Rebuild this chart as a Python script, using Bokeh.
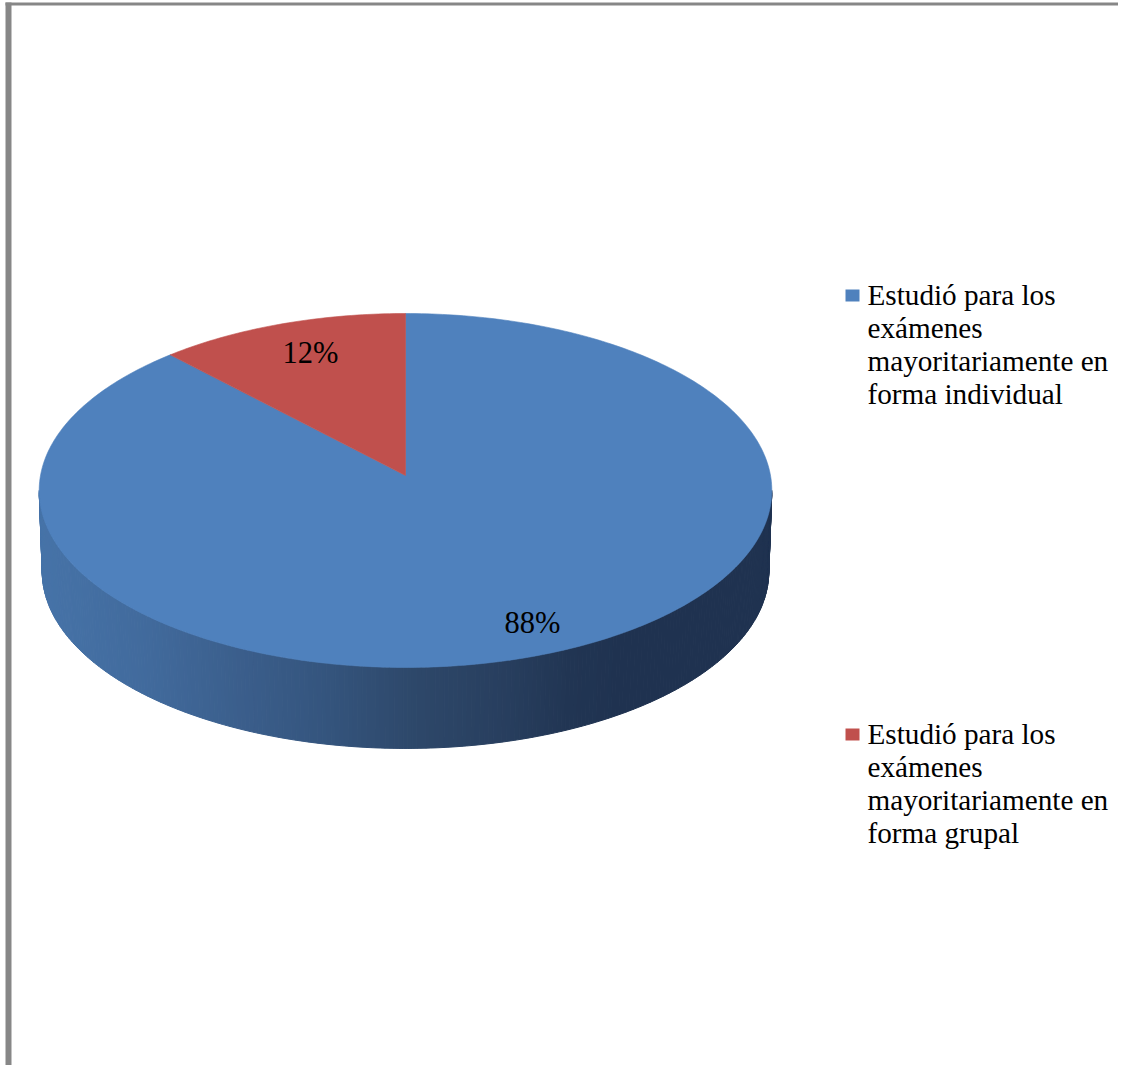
import textwrap
import numpy as np
from bokeh.plotting import figure
from bokeh.models import Range1d
from bokeh.core.properties import value
from bokeh.embed import file_html
from bokeh.resources import INLINE

# ---- data ----
categories = [
    "Estudió para los exámenes mayoritariamente en forma individual",
    "Estudió para los exámenes mayoritariamente en forma grupal",
]
values = [88, 12]
colors = ["#4F81BD", "#C0504D"]

# ---- geometry / style (reference pixel space) ----
W, H = 1118, 1065
CX, CY = 405.0, 475.0      # projected centre of the top disc
A, B, K = 365.0, 175.7, 0.0847  # half-width, half-depth, perspective factor
DEPTH, A_BOT = 81.0, 362.0
FONT = "Liberation Serif"
TEXT_DY = -10  # compensation for svg baseline placement

p = figure(width=W, height=H, output_backend="svg", toolbar_location=None,
           x_range=Range1d(0, W), y_range=Range1d(H, 0),
           min_border=0, outline_line_color=None, background_fill_color="white")
p.axis.visible = False
p.grid.visible = False


def proj(theta, r=1.0, dy=0.0, a=A):
    X = r * np.cos(theta)
    Y = r * np.sin(theta)
    den = 1 + K * Y
    return CX + a * X / den, CY + dy - B * Y / den


# chart frame (gray border at left and top)
p.quad(left=[5], right=[11], top=[2], bottom=[H], fill_color="#878787", line_color=None)
p.quad(left=[5], right=[W], top=[2], bottom=[5], fill_color="#878787", line_color=None)

# ---- side wall with horizontal shading ----
grad_x = [40, 150, 250, 330, 420, 500, 570, 620, 790]
grad_rgb = np.array([
    (70, 115, 168), (65, 106, 156), (58, 93, 138), (52, 84, 125), (45, 71, 105),
    (40, 63, 95), (33, 53, 83), (31, 50, 80), (31, 50, 80)], dtype=float)

delta = np.arcsin(K)
th = np.linspace(np.pi + delta, 2 * np.pi - delta, 260)
tx, ty = proj(th)
bx, by = proj(th, dy=DEPTH, a=A_BOT)
xs, ys, cols = [], [], []
for i in range(len(th) - 1):
    xs.append([tx[i], tx[i + 1], bx[i + 1], bx[i]])
    ys.append([ty[i], ty[i + 1], by[i + 1], by[i]])
    mx = 0.25 * (tx[i] + tx[i + 1] + bx[i] + bx[i + 1])
    rgb = [np.interp(mx, grad_x, grad_rgb[:, c]) for c in range(3)]
    cols.append("#%02x%02x%02x" % tuple(int(round(v)) for v in rgb))
p.patches(xs=xs, ys=ys, fill_color=cols, line_color=cols, line_width=1)

# ---- top surface slices (clockwise from 12 o'clock) ----
total = float(sum(values))
start = np.pi / 2
mids = []
for v, c in zip(values, colors):
    sweep = 2 * np.pi * v / total
    t = np.linspace(start, start - sweep, max(8, int(400 * v / total)))
    ax, ay = proj(t)
    px = np.concatenate([[CX], ax])
    py = np.concatenate([[CY], ay])
    p.patch(px, py, fill_color=c, line_color=c, line_width=0.6)
    mids.append(start - sweep / 2)
    start -= sweep

# ---- percentage labels ----
label_r = [0.88, 0.75]
lx, ly, lt = [], [], []
for v, m, r in zip(values, mids, label_r):
    x, y = proj(m, r=r)
    lx.append(float(x))
    ly.append(float(y) + 3 + TEXT_DY)
    lt.append(f"{round(100 * v / total)}%")
p.text(x=lx, y=ly, text=lt, text_font=value(FONT), text_font_size="30.5px",
       text_align="center", text_baseline="alphabetic", text_color="black")

# ---- legend ----
leg_baseline = [304, 743]
line_gap = 33
tx_, ty_, tt_ = [], [], []
for cat, c, b0 in zip(categories, colors, leg_baseline):
    p.quad(left=[845], right=[859], top=[b0 - 15], bottom=[b0 - 3], fill_color=c, line_color=None)
    for j, line in enumerate(textwrap.wrap(cat, 20)):
        tx_.append(867)
        ty_.append(b0 + j * line_gap + TEXT_DY)
        tt_.append(line)
p.text(x=tx_, y=ty_, text=tt_, text_font=value(FONT), text_font_size="29.2px",
       text_align="left", text_baseline="alphabetic", text_color="black")

open("out.html", "w").write(file_html(p, INLINE))
